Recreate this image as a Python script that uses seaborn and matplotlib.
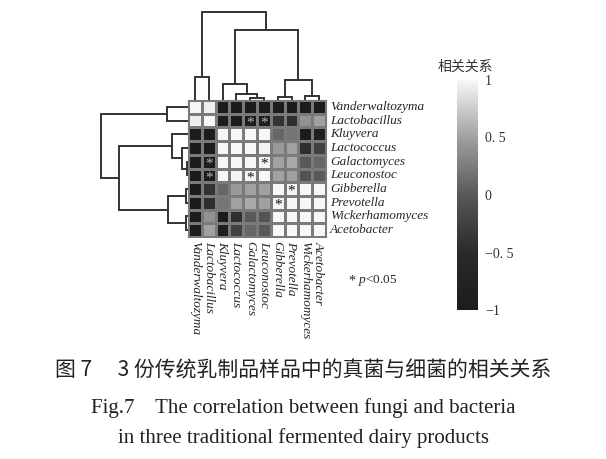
import numpy as np
import pandas as pd
import matplotlib
matplotlib.use('Agg')
import matplotlib.pyplot as plt
import seaborn as sns
from matplotlib.colors import LinearSegmentedColormap

# taxa in clustered order (rows = columns)
taxa = ['Vanderwaltozyma', 'Lactobacillus', 'Kluyvera', 'Lactococcus',
        'Galactomyces', 'Leuconostoc', 'Gibberella', 'Prevotella',
        'Wickerhamomyces', 'Acetobacter']

# correlation values
corr = [
    [1.00, 0.95, -1.00, -1.00, -1.00, -1.00, -1.00, -1.00, -1.00, -1.00],
    [0.95, 1.00, -1.00, -1.00, -0.95, -0.95, -0.40, -0.45, 0.40, 0.50],
    [-1.00, -1.00, 1.00, 1.00, 1.00, 1.00, 0.10, 0.20, -1.00, -0.90],
    [-1.00, -1.00, 1.00, 1.00, 1.00, 0.98, 0.45, 0.50, -0.45, -0.25],
    [-1.00, -0.95, 1.00, 1.00, 1.00, 0.98, 0.50, 0.55, 0.00, 0.10],
    [-1.00, -0.95, 1.00, 0.98, 0.98, 1.00, 0.50, 0.50, -0.05, 0.00],
    [-1.00, -0.40, 0.10, 0.45, 0.50, 0.50, 1.00, 0.98, 1.00, 1.00],
    [-1.00, -0.45, 0.20, 0.50, 0.55, 0.50, 0.98, 1.00, 1.00, 1.00],
    [-1.00, 0.40, -1.00, -0.45, 0.00, -0.05, 1.00, 1.00, 1.00, 1.00],
    [-1.00, 0.50, -0.90, -0.25, 0.10, 0.00, 1.00, 1.00, 1.00, 1.00],
]

# significant cells (row, col), p<0.05
sig_cells = [(1, 4), (1, 5), (4, 1), (5, 1), (4, 5), (5, 4), (6, 7), (7, 6)]

# cluster tree: (node a, node b, height); leaves 0-9, merge i makes node 10+i
merges_top = [(4, 5, 2), (6, 7, 3), (8, 9, 4), (3, 10, 6), (2, 13, 16),
              (11, 12, 20), (0, 1, 23), (14, 15, 70), (16, 17, 88)]
merges_left = [(4, 5, 1), (6, 7, 2), (8, 9, 2), (3, 10, 6), (2, 13, 16),
               (11, 12, 20), (0, 1, 21), (14, 15, 69), (16, 17, 87)]

cbar_ticks = [1, 0.5, 0, -0.5, -1]
cbar_labels = ['1', '0. 5', '0', '\u22120. 5', '\u22121']

df = pd.DataFrame(corr, index=taxa, columns=taxa)

sns.set_style('white')
plt.rcParams['font.family'] = ['Liberation Serif', 'Noto Sans CJK SC']
plt.rcParams['mathtext.fontset'] = 'custom'
plt.rcParams['mathtext.it'] = 'Liberation Serif:italic'
plt.rcParams['mathtext.rm'] = 'Liberation Serif'

W, H = 606, 459
fig = plt.figure(figsize=(W / 100, H / 100), dpi=100)


def px_axes(x0, y0, x1, y1):
    return fig.add_axes([x0 / W, 1 - y1 / H, (x1 - x0) / W, (y1 - y0) / H])


ax_heat = px_axes(188, 100, 326, 237)
ax_top = px_axes(188, 8, 326, 100)
ax_left = px_axes(96, 100, 188, 237)
ax_cbar = px_axes(457, 80, 478, 310)

gray_cmap = LinearSegmentedColormap.from_list(
    'corr_gray',
    [(0.0, '#1c1c1c'), (0.25, '#2a2a2a'), (0.5, '#585858'),
     (0.75, '#a0a0a0'), (1.0, '#f7f7f7')])

sns.heatmap(df, ax=ax_heat, cmap=gray_cmap, vmin=-1, vmax=1,
            linewidths=0.8, linecolor='#7a7a7a', cbar_ax=ax_cbar,
            xticklabels=taxa, yticklabels=taxa)

for r, c in sig_cells:
    col = '#111111' if corr[r][c] > 0 else '#b5b5b5'
    ax_heat.text(c + 0.5, r + 0.68, '*', ha='center', va='center',
                 fontsize=11, color=col)

for sp in ax_heat.spines.values():
    sp.set_visible(True)
    sp.set_color('#7a7a7a')
    sp.set_linewidth(0.8)

ax_heat.yaxis.tick_right()
ax_heat.set_yticklabels(taxa, rotation=0, fontstyle='italic', fontsize=9.5,
                        va='center')
ax_heat.set_xticklabels(taxa, rotation=270, fontstyle='italic', fontsize=9.5,
                        va='top', ha='center')
ax_heat.tick_params(length=0, pad=3)
ax_heat.set_xlabel('')
ax_heat.set_ylabel('')


def dendro_segments(merges):
    pos = {i: i + 0.5 for i in range(len(taxa))}
    hgt = {i: 0.0 for i in range(len(taxa))}
    segs = []
    for k, (a, b, h) in enumerate(merges):
        segs.append(([pos[a], pos[a], pos[b], pos[b]], [hgt[a], h, h, hgt[b]]))
        pos[len(taxa) + k] = (pos[a] + pos[b]) / 2
        hgt[len(taxa) + k] = h
    return segs


for xs, hs in dendro_segments(merges_top):
    ax_top.plot(xs, hs, color='#333333', lw=1.4, solid_joinstyle='miter')
ax_top.set_xlim(0, 10)
ax_top.set_ylim(0, 92)
ax_top.axis('off')

for ys, hs in dendro_segments(merges_left):
    ax_left.plot(hs, ys, color='#333333', lw=1.4, solid_joinstyle='miter')
ax_left.set_ylim(10, 0)
ax_left.set_xlim(92, 0)
ax_left.axis('off')

ax_cbar.set_yticks(cbar_ticks)
ax_cbar.set_yticklabels(cbar_labels, fontsize=10, color='#333333')
ax_cbar.tick_params(length=0, pad=5)
for sp in ax_cbar.spines.values():
    sp.set_visible(False)
fig.text(465 / W, 1 - 67 / H, '相关关系', ha='center', va='center',
         fontsize=10, color='#333333', family=['Noto Sans CJK SC'])

fig.text(348 / W, 1 - 281 / H, '*', ha='left', va='center', fontsize=10)
fig.text(358 / W, 1 - 281 / H, r'$p$<0.05', ha='left', va='center',
         fontsize=9.5)

fig.text(0.5, 1 - 371 / H, '图 7\u3000 3 份传统乳制品样品中的真菌与细菌的相关关系',
         ha='center', va='center', fontsize=15, color='#222222',
         family=['Noto Sans CJK SC'])
fig.text(0.5, 1 - 408 / H, 'Fig.7    The correlation between fungi and bacteria',
         ha='center', va='center', fontsize=15, color='#222222')
fig.text(0.5, 1 - 438 / H, 'in three traditional fermented dairy products',
         ha='center', va='center', fontsize=15, color='#222222')

fig.savefig('out.png', dpi=100)
